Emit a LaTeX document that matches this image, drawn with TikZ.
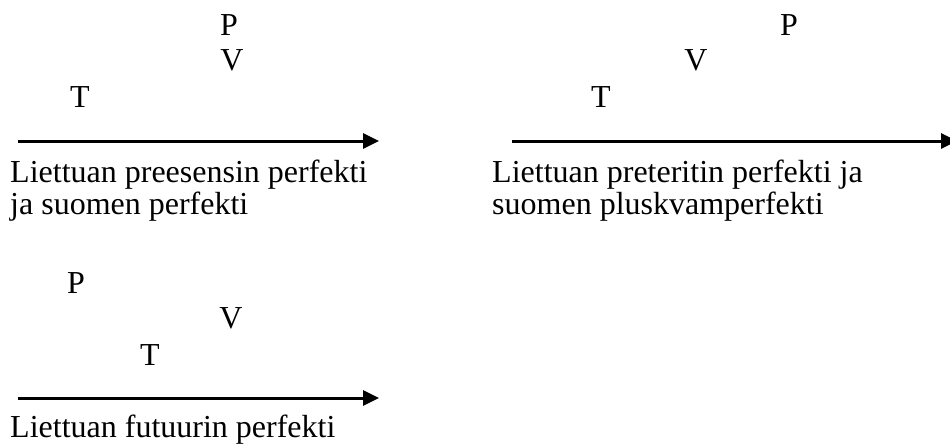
\documentclass[tikz,border=0pt]{standalone}
\usepackage{fontspec}
\setmainfont{Liberation Serif}
\usetikzlibrary{arrows.meta}
\begin{document}
\begin{tikzpicture}[x=1pt,y=-1pt,
  lbl/.style={inner sep=0pt,font=\fontsize{32}{32}\selectfont},
  captext/.style={inner sep=0pt,anchor=base west,align=left,font=\fontsize{32}{32}\selectfont},
  axis/.style={line width=3pt,-{Triangle[length=16pt,width=15pt]}}]
\useasboundingbox (0,0) rectangle (950,444);
% panel 1
\node[lbl] (p1) at (229,25) {P};
\node[lbl] (v1) at (232,60) {V};
\node[lbl] (t1) at (80,97) {T};
\coordinate (a1s) at (18,141);
\coordinate (a1e) at (379,141);
\draw[axis] (a1s) -- (a1e);
\node[captext] (c1) at (10,214) {Liettuan preesensin perfekti\\ja suomen perfekti};
% panel 2
\node[lbl] (p2) at (789,25) {P};
\node[lbl] (v2) at (696,60) {V};
\node[lbl] (t2) at (601,97) {T};
\coordinate (a2s) at (512,141);
\coordinate (a2e) at (957,141);
\draw[axis] (a2s) -- (a2e);
\node[captext] (c2) at (492,214) {Liettuan preteritin perfekti ja\\suomen pluskvamperfekti};
% panel 3
\node[lbl] (p3) at (76,283) {P};
\node[lbl] (v3) at (231,318) {V};
\node[lbl] (t3) at (150,355) {T};
\coordinate (a3s) at (18,398);
\coordinate (a3e) at (379,398);
\draw[axis] (a3s) -- (a3e);
\node[captext] (c3) at (10,437) {Liettuan futuurin perfekti};
\end{tikzpicture}
\end{document}
